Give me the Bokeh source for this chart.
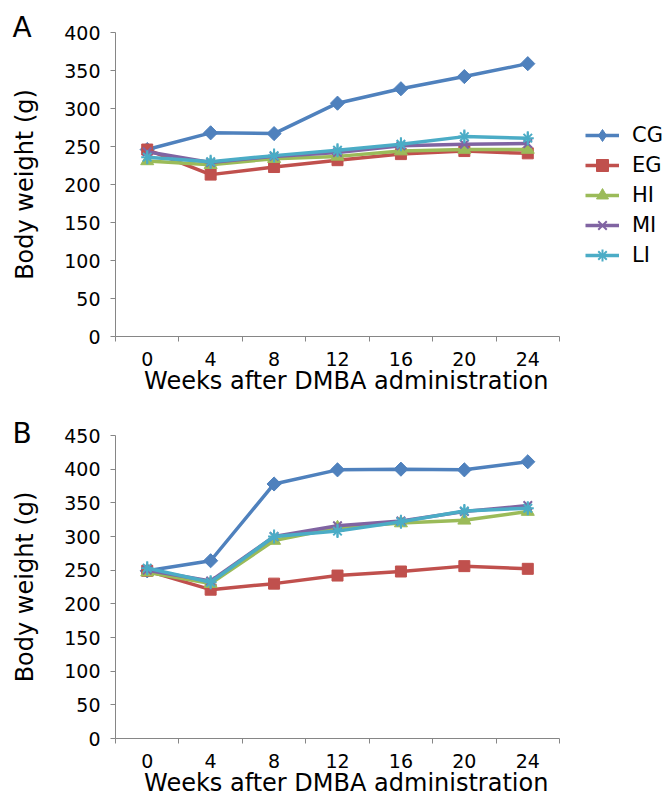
import math
from bokeh.plotting import figure
from bokeh.layouts import column
from bokeh.models import FixedTicker, Legend, LegendItem, Range1d, Title
from bokeh.embed import file_html
from bokeh.resources import INLINE

weeks = [0, 4, 8, 12, 16, 20, 24]
groups = ["CG", "EG", "HI", "MI", "LI"]
colors = ["#4F81BD", "#C0504D", "#9BBB59", "#8064A2", "#4BACC6"]
x_title = "Weeks after DMBA administration"
y_title = "Body weight (g)"

# Panel A
a_CG = [246, 268, 267, 307, 326, 342, 359]
a_EG = [246, 213, 223, 232, 240, 244, 241]
a_HI = [231, 226, 234, 237, 244, 246, 246]
a_MI = [243, 229, 237, 242, 251, 253, 254]
a_LI = [236, 230, 238, 245, 253, 263, 261]
a_yticks = [0, 50, 100, 150, 200, 250, 300, 350, 400]

# Panel B
b_CG = [249, 264, 378, 399, 400, 399, 411]
b_EG = [249, 221, 230, 242, 248, 256, 252]
b_HI = [247, 230, 294, 313, 320, 324, 337]
b_MI = [250, 234, 300, 316, 323, 337, 346]
b_LI = [253, 232, 300, 308, 322, 338, 342]
b_yticks = [0, 50, 100, 150, 200, 250, 300, 350, 400, 450]

FONT = "DejaVu Sans"
AXIS_C = "#868686"
W = 668
LEFT = 115
AXIS_PX = 444  # on-screen length of the week axis
X0, X1 = weeks[0] - 2, weeks[-1] + 2
X_END = X0 + (X1 - X0) * (W - LEFT) / AXIS_PX  # frame runs to the right edge


def panel(series, yticks, letter, letter_standoff, height, top, bottom, legend=False):
    ymax = yticks[-1]
    p = figure(width=W, height=height, output_backend="svg", toolbar_location=None,
               x_range=Range1d(X0, X_END), y_range=Range1d(0, ymax),
               min_border_left=LEFT, min_border_right=0,
               min_border_top=top, min_border_bottom=bottom)
    p.outline_line_color = None
    p.xgrid.grid_line_color = None
    p.ygrid.grid_line_color = None
    p.background_fill_color = "white"

    p.title = Title(text=letter, align="left", offset=-103, vertical_align="bottom",
                    standoff=letter_standoff, text_font=FONT, text_font_size="28px",
                    text_font_style="normal", text_color="black")

    # x axis: labels at week centres, ticks at boundaries
    xa = p.xaxis[0]
    minors = [w - 2 for w in weeks] + [weeks[-1] + 2]
    xa.ticker = FixedTicker(ticks=weeks, minor_ticks=minors)
    xa.bounds = (X0, X1)
    xa.major_tick_out = 0
    xa.major_tick_in = 0
    xa.minor_tick_out = 5
    xa.minor_tick_in = 0
    xa.minor_tick_line_color = AXIS_C
    xa.axis_line_color = AXIS_C
    xa.major_label_text_font = FONT
    xa.major_label_text_font_size = "19px"
    xa.major_label_text_color = "black"
    xa.major_label_standoff = 10
    xa.axis_label = x_title + "\u00a0" * 12
    xa.axis_label_text_font = FONT
    xa.axis_label_text_font_size = "24px"
    xa.axis_label_text_font_style = "normal"
    xa.axis_label_text_color = "black"
    xa.axis_label_standoff = -2

    ya = p.yaxis[0]
    ya.ticker = FixedTicker(ticks=yticks)
    ya.major_tick_out = 5
    ya.major_tick_in = 0
    ya.minor_tick_line_color = None
    ya.axis_line_color = AXIS_C
    ya.major_tick_line_color = AXIS_C
    ya.major_label_text_font = FONT
    ya.major_label_text_font_size = "19px"
    ya.major_label_text_color = "black"
    ya.major_label_standoff = 10
    ya.axis_label = y_title
    ya.axis_label_text_font = FONT
    ya.axis_label_text_font_size = "24px"
    ya.axis_label_text_font_style = "normal"
    ya.axis_label_text_color = "black"
    ya.axis_label_standoff = 22

    items = []
    for name, vals, col in zip(groups, series, colors):
        if name == "CG":
            under = p.scatter(weeks, vals, marker="diamond", size=12,
                              fill_color=col, line_color=col)
            ln = p.line(weeks, vals, line_color=col, line_width=3.5)
            p.scatter(weeks, vals, marker="square", angle=math.pi / 4, size=10,
                      fill_color=col, line_color=col)
            rs = [ln, under]
        elif name == "EG":
            ln = p.line(weeks, vals, line_color=col, line_width=3.5)
            rs = [ln, p.scatter(weeks, vals, marker="square", size=11,
                                fill_color=col, line_color=col)]
        elif name == "HI":
            ln = p.line(weeks, vals, line_color=col, line_width=3.5)
            rs = [ln, p.scatter(weeks, vals, marker="triangle", size=13,
                                fill_color=col, line_color=col)]
        elif name == "MI":
            ln = p.line(weeks, vals, line_color=col, line_width=3.5)
            rs = [ln, p.scatter(weeks, vals, marker="x", size=12,
                                line_color=col, line_width=2)]
        else:
            under = p.scatter(weeks, vals, marker="cross", size=12,
                              line_color=col, line_width=2)
            ln = p.line(weeks, vals, line_color=col, line_width=3.5)
            xm = p.scatter(weeks, vals, marker="x", size=12,
                           line_color=col, line_width=2)
            p.scatter(weeks, vals, marker="dash", angle=math.pi / 2, size=14,
                      line_color=col, line_width=2)
            rs = [under, ln, xm]
        items.append(LegendItem(label=name, renderers=rs))

    if legend:
        lg = Legend(items=items, location=(470, 66), border_line_color=None,
                    background_fill_alpha=0, padding=0, margin=0, spacing=0,
                    glyph_width=34, glyph_height=30, label_height=30,
                    label_standoff=13, label_text_font=FONT,
                    label_text_font_size="21px", label_text_color="black")
        p.add_layout(lg)

    return p


pa = panel([a_CG, a_EG, a_HI, a_MI, a_LI], a_yticks, "A", -23, 397, 32, 61, legend=True)
pb = panel([b_CG, b_EG, b_HI, b_MI, b_LI], b_yticks, "B", -29, 402, 38, 61)

layout = column(pa, pb, spacing=0)
open("out.html", "w").write(file_html(layout, INLINE))
